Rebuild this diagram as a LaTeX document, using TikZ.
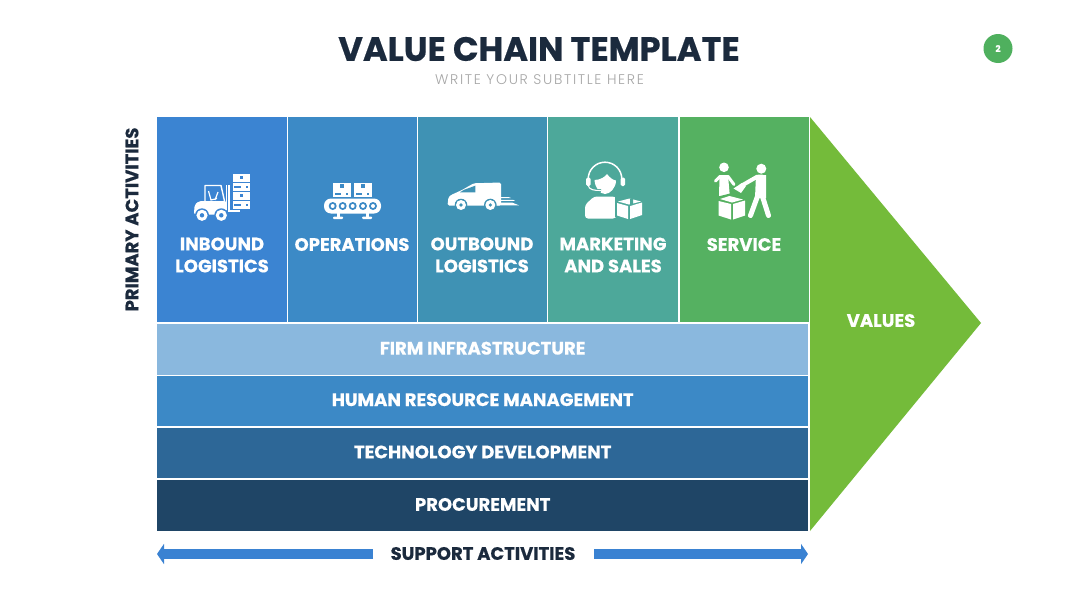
\documentclass[tikz,border=0pt]{standalone}
\usepackage{fontspec}
\setmainfont{Poppins}[BoldFeatures={FakeBold=0.5}]
\newfontfamily\lightfont{Poppins Light}
\usetikzlibrary{arrows.meta}
\definecolor{inkc}{HTML}{1B2A3D}
\definecolor{subc}{HTML}{A6A6A6}
\definecolor{inbc}{HTML}{3B84D2}
\definecolor{opsc}{HTML}{3C8AC6}
\definecolor{outc}{HTML}{3F92B4}
\definecolor{mktc}{HTML}{4DA89A}
\definecolor{srvc}{HTML}{55B161}
\definecolor{valc}{HTML}{74BB3A}
\definecolor{firmc}{HTML}{8AB8DE}
\definecolor{hrmc}{HTML}{3C89C6}
\definecolor{techc}{HTML}{2D6797}
\definecolor{procc}{HTML}{1F4566}
\definecolor{arrc}{HTML}{3A82D2}
\definecolor{dotc}{HTML}{4FB05E}
\begin{document}
\begin{tikzpicture}[x=1pt,y=-1pt,>=Stealth]
\tikzstyle{cell}=[anchor=north west,inner sep=0,minimum height=205pt]
\tikzstyle{band}=[anchor=north west,inner sep=0,minimum width=651pt,text height=12.6pt,text depth=2.4pt,font=\bfseries\fontsize{18}{20}\selectfont,text=white]
\tikzstyle{lab}=[align=center,inner sep=0,text=white,font=\bfseries\fontsize{18}{22}\selectfont]
\tikzstyle{head}=[inner sep=0,text=inkc,font=\bfseries\fontsize{18}{20}\selectfont]
\tikzstyle{ic}=[fill=white]
\useasboundingbox (0,0) rectangle (1080,608);
\fill[white] (0,0) rectangle (1080,608);
\node[inner sep=0,text=inkc,font=\bfseries\fontsize{33.7}{36}\selectfont] (title) at (539,49) {VALUE CHAIN TEMPLATE};
\node[inner sep=0,text=subc,font=\lightfont\fontsize{14}{16}\selectfont] (subtitle) at (539.5,79.5) {\addfontfeature{LetterSpace=12}WRITE YOUR SUBTITLE HERE};
\node[circle,fill=dotc,minimum size=29pt,inner sep=0,text=white,font=\bfseries\fontsize{9}{10}\selectfont] (page) at (998,48.5) {2};
\node[head,rotate=90] (primary) at (132,219.5) {PRIMARY ACTIVITIES};
\foreach \n/\x/\w/\c in {inb/157/129.5/inbc,ops/288/128.7/opsc,out/418/128.7/outc,mkt/548.2/130/mktc,srv/680.2/128.1/srvc} \node[cell,minimum width=\w pt,fill=\c] (\n) at (\x,116.7) {};
\node[lab] (inblab) at (222,255) {INBOUND\\LOGISTICS};
\node[lab] (opslab) at (352,244.5) {OPERATIONS};
\node[lab] (outlab) at (482,255) {OUTBOUND\\LOGISTICS};
\node[lab] (mktlab) at (613,255) {MARKETING\\AND SALES};
\node[lab] (srvlab) at (744,244.5) {SERVICE};
\foreach \n/\y/\h/\c/\t in {firm/324/50.5/firmc/FIRM INFRASTRUCTURE,hrm/375.7/50/hrmc/HUMAN RESOURCE MANAGEMENT,tech/428.2/49.6/techc/TECHNOLOGY DEVELOPMENT,proc/480/51/procc/PROCUREMENT} \node[band,minimum height=\h pt,fill=\c] (\n) at (157,\y) {\t};
\fill[valc] (810,117) -- (981,323) -- (810,531) -- cycle;
\node[lab] (values) at (881,320.5) {VALUES};
\node[head] (support) at (483,553.5) {SUPPORT ACTIVITIES};
\coordinate (arrla) at (373,554);
\coordinate (arrlb) at (157,554);
\coordinate (arrra) at (594,554);
\coordinate (arrrb) at (808,554);
\draw[arrc,line width=10pt,-{Triangle[length=7pt,width=20pt]}] (arrla) -- (arrlb);
\draw[arrc,line width=10pt,-{Triangle[length=7pt,width=20pt]}] (arrra) -- (arrrb);
% forklift
\fill[ic] (232.5,174) rectangle (250,191);
\fill[ic] (232.5,192) rectangle (250,209);
\foreach \y in {174,192} {
\fill[inbc] (239.5,\y+1.5) rectangle (243,\y+5);
\fill[inbc] (232.5,\y+8) rectangle (250,\y+8.8);
\fill[inbc] (234,\y+11.5) rectangle (241,\y+13.5);
\fill[inbc] (246,\y+12) rectangle (248,\y+13.5);
}
\fill[ic] (226.2,185) rectangle (227.4,210);
\fill[ic] (228.4,185) rectangle (229.6,210);
\fill[ic] (228,210) rectangle (240,212);
\draw[white,line width=1.4pt,line join=round] (205,201) -- (205,185.5) -- (221,185.5) -- (224.5,201);
\draw[white,line width=1.2pt] (208.5,191) -- (211,200) -- (217,198.5) (218,192) -- (215,200);
\fill[ic,rounded corners=2pt] (194,214.5) -- (194.5,205) -- (199,201) -- (226.3,201) -- (226.3,213) -- (222,214.5) -- cycle;
\foreach \x in {202,221.3} {
\fill[inbc] (\x,215.3) circle (7);
\fill[ic] (\x,215.3) circle (5.6);
\fill[inbc] (\x,215.3) circle (2.2);
}
% conveyor
\foreach \x in {333,354} {
\fill[ic] (\x,183) rectangle (\x+17.5,197);
\fill[opsc] (\x+7,184) rectangle (\x+10.5,188);
\fill[opsc] (\x+2,193) rectangle (\x+8,194.5);
\fill[opsc] (\x+13,193) rectangle (\x+15,194.5);
}
\fill[ic,rounded corners=7pt] (324,198.5) rectangle (381,213.5);
\foreach \x in {332.7,342.7,352.7,363,373} {
\fill[opsc] (\x,206) circle (4);
\fill[ic] (\x,206) circle (2);
}
\foreach \x in {338,367} {
\fill[ic] (\x-1.5,213) rectangle (\x+1.5,217);
\fill[ic,rounded corners=1pt] (\x-5,216.5) rectangle (\x+5,219);
}
% van
\fill[ic,rounded corners=1.5pt] (447.5,205.5) -- (448.5,197) -- (451,195) -- (462,190) -- (473.7,183.3) -- (501,182.5) -- (501,205.5) -- cycle;
\fill[outc] (464,189.8) -- (475.3,185.7) -- (475.3,192.3) -- (460,192.3) -- cycle;
\foreach \x in {461,490.3} {
\fill[outc] (\x,205) circle (6.3);
\fill[ic] (\x,205) circle (5);
\fill[outc] (\x,205) circle (1.8);
}
\fill[ic] (500,197.2) -- (509,197.2) -- (511,198) -- (500,198) -- cycle;
\fill[ic] (500,199.8) -- (513,199.8) -- (515,200.8) -- (500,200.8) -- cycle;
\fill[ic] (500,202.5) -- (512,202.5) -- (519,205.3) -- (497,205.3) -- cycle;
% agent
\fill[ic,rounded corners=3pt] (585,218.5) -- (585,205) -- (594,196.5) -- (614,196.5) -- (622,200) -- (616,218.5) -- cycle;
\draw[white,line width=1.5pt] (588.2,179) arc (180:360:16.8);
\fill[ic,rounded corners=1.5pt] (586,177.5) rectangle (590.5,186);
\fill[ic,rounded corners=1.5pt] (620.5,177.5) rectangle (625,186);
\fill[ic] (594.5,180) .. controls (600,180) and (605,177) .. (607,174) .. controls (610,178) and (613,180) .. (616,180.5) .. controls (616,188) and (610,194) .. (605,194) .. controls (600,194) and (595,188) .. (594.5,180) -- cycle;
\draw[mktc,line width=2.6pt] (589,187) .. controls (590,190) and (594,190.5) .. (601,190.5);
\draw[white,line width=1.1pt] (588,185) .. controls (589,190) and (594,190.5) .. (601,190.5);
\fill[mktc] (615,197) -- (631,196.5) -- (643.5,201) -- (643.5,216) -- (629,221) -- (615,217) -- cycle;
\fill[ic] (617,203) -- (628,206) -- (628,219) -- (617,215.5) -- cycle;
\fill[ic] (630,206) -- (642,202.5) -- (642,215) -- (630,219) -- cycle;
\fill[ic] (618,201.5) -- (629.5,198.5) -- (641,201.5) -- (629,204.5) -- cycle;
\fill[mktc] (630,198.5) -- (633,199) -- (633,205) -- (630,205.5) -- cycle;
% handover
\fill[ic] (724,167.3) circle (4.8);
\fill[ic] (761.3,168.7) circle (5);
\draw[white,line width=3pt,line cap=round,line join=round] (715.5,181) -- (720,176.5) -- (728,176.5) -- (734,184.5);
\fill[ic] (719.5,175) -- (728,175) -- (730,198) -- (719,198) -- cycle;
\draw[white,line width=4pt,line cap=round,line join=round] (741,186) -- (757,176.8) -- (762,176.5);
\fill[ic] (733.5,188.5) -- (742,183) -- (746,186) -- (741,193) -- cycle;
\fill[ic] (756,175) -- (766,175) -- (766,198) -- (755,198) -- cycle;
\draw[white,line width=5pt,line cap=round] (758,195) -- (750.5,215.5) (762,195) -- (768.5,215.5);
\fill[srvc] (716,197) -- (730,193.5) -- (747,198.5) -- (747,216) -- (731,221) -- (716,217) -- cycle;
\fill[ic] (718.5,201) -- (731,204) -- (731,219.5) -- (718.5,215.5) -- cycle;
\fill[ic] (733,204) -- (745,200.5) -- (745,215.5) -- (733,219.5) -- cycle;
\fill[ic] (720,199) -- (729.5,196) -- (743,199.5) -- (732,202.5) -- cycle;
\end{tikzpicture}
\end{document}
